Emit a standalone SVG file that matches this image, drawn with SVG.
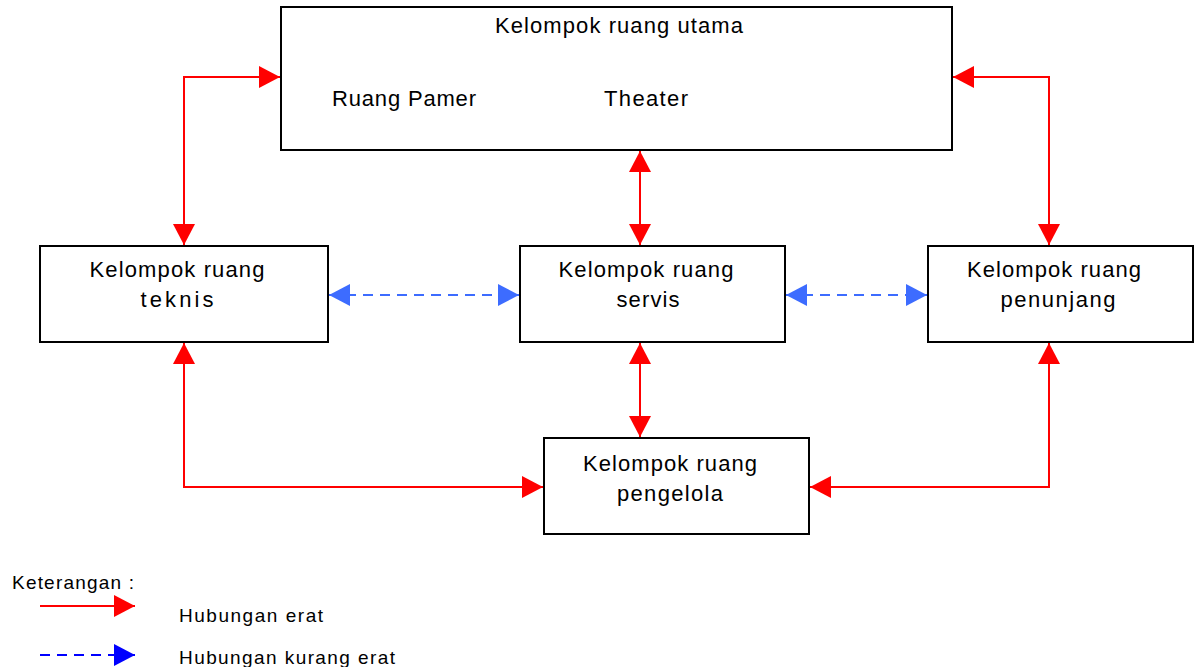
<svg xmlns="http://www.w3.org/2000/svg" width="1199" height="667" viewBox="0 0 1199 667">
<style>
.box{fill:#fff;stroke:#000;stroke-width:2}
.t{font-family:"Liberation Sans",Arial,sans-serif;font-size:22px;fill:#000}
.s{font-size:19px}
.red{fill:none;stroke:#ff0000;stroke-width:2}
.blue{fill:none;stroke:#3d6cff;stroke-width:2;stroke-dasharray:10 7}
.lblue{fill:none;stroke:#0000ff;stroke-width:2;stroke-dasharray:10 7}
</style>
<defs>
<marker id="ar" markerUnits="userSpaceOnUse" markerWidth="22" markerHeight="22" viewBox="0 0 22 22" refX="21" refY="11" orient="auto-start-reverse"><path d="M0,0 L21,11 L0,22 Z" fill="#ff0000"/></marker>
<marker id="ab" markerUnits="userSpaceOnUse" markerWidth="22" markerHeight="22" viewBox="0 0 22 22" refX="21" refY="11" orient="auto-start-reverse"><path d="M0,0 L21,11 L0,22 Z" fill="#3d6cff"/></marker>
<marker id="ab2" markerUnits="userSpaceOnUse" markerWidth="22" markerHeight="22" viewBox="0 0 22 22" refX="21" refY="11" orient="auto"><path d="M0,0 L21,11 L0,22 Z" fill="#0000ff"/></marker>
<marker id="ar2" markerUnits="userSpaceOnUse" markerWidth="22" markerHeight="22" viewBox="0 0 22 22" refX="21" refY="11" orient="auto"><path d="M0,0 L21,11 L0,22 Z" fill="#ff0000"/></marker>
</defs>
<g id="connectors">
<path class="red" d="M184,245 V77 H280" marker-start="url(#ar)" marker-end="url(#ar)"/>
<path class="red" d="M953,77 H1049 V245" marker-start="url(#ar)" marker-end="url(#ar)"/>
<path class="red" d="M640,151 V245" marker-start="url(#ar)" marker-end="url(#ar)"/>
<path class="red" d="M640,343 V437" marker-start="url(#ar)" marker-end="url(#ar)"/>
<path class="red" d="M184,343 V487 H543" marker-start="url(#ar)" marker-end="url(#ar)"/>
<path class="red" d="M1049,343 V487 H810" marker-start="url(#ar)" marker-end="url(#ar)"/>
<path class="blue" d="M329,295 H519" marker-start="url(#ab)" marker-end="url(#ab)"/>
<path class="blue" d="M786,295 H927" marker-start="url(#ab)" marker-end="url(#ab)"/>
</g>
<g id="utama">
<rect class="box" x="281" y="7" width="671" height="143"/>
<text class="t" x="619" y="33" text-anchor="middle" textLength="248">Kelompok ruang utama</text>
<text class="t" x="332" y="106" textLength="144">Ruang Pamer</text>
<text class="t" x="604" y="106" textLength="84">Theater</text>
</g>
<g id="teknis">
<rect class="box" x="40" y="246" width="288" height="96"/>
<text class="t" x="177" y="277" text-anchor="middle" textLength="175">Kelompok ruang</text>
<text class="t" x="177" y="307" text-anchor="middle" textLength="73">teknis</text>
</g>
<g id="servis">
<rect class="box" x="520" y="246" width="265" height="96"/>
<text class="t" x="646" y="277" text-anchor="middle" textLength="175">Kelompok ruang</text>
<text class="t" x="648" y="307" text-anchor="middle" textLength="63">servis</text>
</g>
<g id="penunjang">
<rect class="box" x="928" y="246" width="265" height="96"/>
<text class="t" x="1054" y="277" text-anchor="middle" textLength="174">Kelompok ruang</text>
<text class="t" x="1058" y="307" text-anchor="middle" textLength="115">penunjang</text>
</g>
<g id="pengelola">
<rect class="box" x="544" y="438" width="265" height="96"/>
<text class="t" x="670" y="471" text-anchor="middle" textLength="174">Kelompok ruang</text>
<text class="t" x="670" y="501" text-anchor="middle" textLength="106">pengelola</text>
</g>
<g id="legend">
<text class="t s" x="12" y="589" textLength="122">Keterangan :</text>
<path class="red" d="M40,606 H135" marker-end="url(#ar2)"/>
<text class="t s" x="179" y="622" textLength="144">Hubungan erat</text>
<path class="lblue" d="M40,655 H135" marker-end="url(#ab2)"/>
<text class="t s" x="179" y="664" textLength="216">Hubungan kurang erat</text>
</g>
</svg>
